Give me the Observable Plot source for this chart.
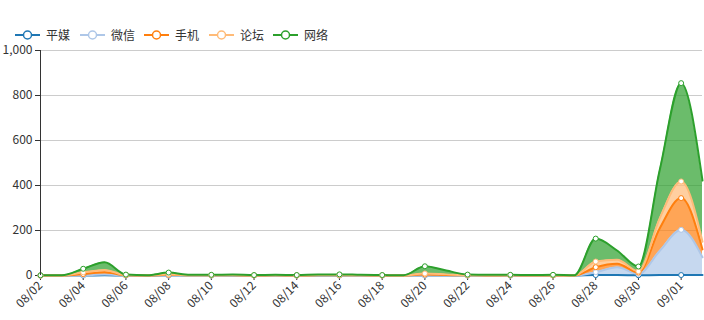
<!DOCTYPE html>
<html><head><meta charset="utf-8">
<script src="https://cdn.jsdelivr.net/npm/d3@7"></script>
<script src="https://cdn.jsdelivr.net/npm/@observablehq/plot@0.6"></script>
<style>
body{margin:0;background:#fff;font-family:"Noto Sans CJK SC","Noto Sans",sans-serif;}
#legend{height:40px;position:relative;width:704px;}
.item{position:absolute;top:28px;display:flex;align-items:center;font-size:12px;color:#333;height:14px;line-height:14px;}
.item svg{margin-right:6px;}
</style></head><body>
<div id="legend"></div><div id="chart"></div>
<script>
const dates = ["08/02","08/03","08/04","08/05","08/06","08/07","08/08","08/09","08/10","08/11","08/12","08/13","08/14","08/15","08/16","08/17","08/18","08/19","08/20","08/21","08/22","08/23","08/24","08/25","08/26","08/27","08/28","08/29","08/30","08/31","09/01","09/02"];
const seriesNames = ["平媒","微信","手机","论坛","网络"];
const colors = ["#1f77b4","#aec7e8","#ff7f0e","#ffbb78","#2ca02c"];
const pingmei = [0,0,0,1,0,0,0,0,0,0,0,0,0,0,0,0,0,0,0,0,0,0,0,0,0,0,2,2,1,2,2,2];
const weixin  = [0,0,1,3,0,0,0,0,0,0,0,0,0,0,0,0,0,0,0,0,0,0,0,0,0,0,13,35,6,108,201,79];
const shouji  = [0,0,5,11,1,0,3,1,1,1,0,1,0,1,1,1,0,0,4,2,1,0,1,0,0,0,22,15,6,100,141,35];
const luntan  = [0,0,8,10,1,1,3,0,0,1,1,0,1,1,1,0,1,0,5,3,0,1,0,1,1,0,25,18,6,45,74,34];
const wangluo = [1,1,16,34,2,0,7,2,2,2,1,2,1,3,3,2,1,1,32,17,3,2,2,1,2,1,102,41,21,215,437,272];
const yTicks = [0,200,400,600,800,1000];
const xTickLabels = dates.filter((d,i) => i % 2 === 0 && d !== "09/02");

const parse = s => { const [m,d] = s.split("/").map(Number); return new Date(Date.UTC(2019, m-1, d)); };
const valuesBySeries = [pingmei, weixin, shouji, luntan, wangluo];
const data = [];
seriesNames.forEach((s, k) => dates.forEach((d, i) => data.push({date: parse(d), label: d, series: s, value: valuesBySeries[k][i]})));
const tickSet = new Set(xTickLabels);
const tickDates = xTickLabels.map(parse);

// legend
const legend = document.getElementById("legend");
const lefts = [15, 80, 144, 209, 273];
seriesNames.forEach((s, k) => {
  const div = document.createElement("div");
  div.className = "item";
  div.style.left = lefts[k] + "px";
  div.innerHTML = `<svg width="25" height="12"><line x1="0" x2="25" y1="6" y2="6" stroke="${colors[k]}" stroke-width="2"/><circle cx="12.5" cy="6" r="4" fill="#fff" stroke="${colors[k]}" stroke-width="1.5"/></svg><span>${s}</span>`;
  legend.appendChild(div);
});

const color = {domain: seriesNames, range: colors};
const chart = Plot.plot({
  width: 704, height: 280,
  marginLeft: 40, marginRight: 2, marginTop: 10, marginBottom: 45,
  style: {fontSize: "12px", fontFamily: '"Noto Sans CJK SC","Noto Sans",sans-serif', color: "#333", background: "#fff"},
  x: {type: "utc", domain: [parse(dates[0]), parse(dates[dates.length-1])]},
  y: {domain: [0, 1000]},
  color,
  marks: [
    Plot.gridY(yTicks, {stroke: "#ccc", strokeOpacity: 1}),
    Plot.axisY({ticks: yTicks, tickFormat: d3.format(","), tickSize: 5, tickPadding: 3, label: null, stroke: "#333"}),
    Plot.axisX({ticks: tickDates, tickFormat: d3.utcFormat("%m/%d"), tickRotate: -45, tickSize: 5, tickPadding: 3, label: null, stroke: "#333"}),
    Plot.ruleY([0], {stroke: "#333"}),
    Plot.areaY(data, {x: "date", y: "value", z: "series", fill: "series", fillOpacity: 0.7, curve: "monotone-x"}),
    Plot.lineY(data, Plot.stackY2({x: "date", y: "value", z: "series", stroke: "series", strokeWidth: 2, curve: "monotone-x"})),
    Plot.dot(data, Plot.filter(d => tickSet.has(d.label), Plot.stackY2({x: "date", y: "value", z: "series", stroke: "series", fill: "#fff", r: 2.5, strokeWidth: 1}))),
    Plot.ruleX([parse(dates[0])], {y1: 0, y2: 1000, stroke: "#333"})
  ]
});
document.getElementById("chart").appendChild(chart);
</script>
</body></html>
